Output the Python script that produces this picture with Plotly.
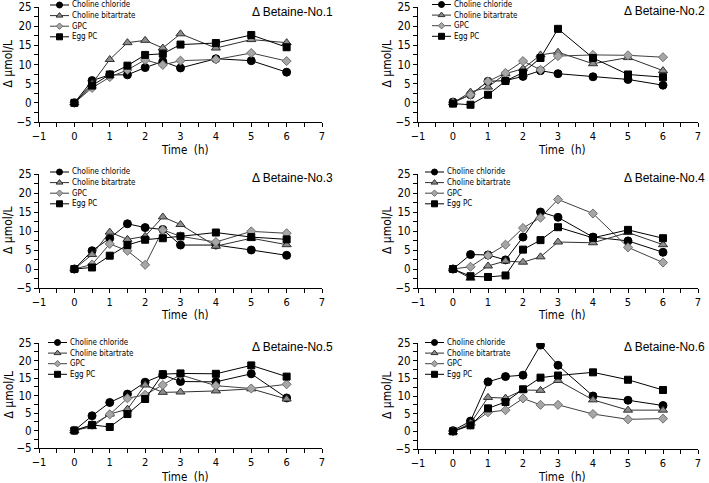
import plotly.graph_objects as go

W, H = 709, 483
FONT = "Liberation Sans Narrow, DejaVu Sans Condensed, Liberation Sans, Arial, sans-serif"
TFONT = "Liberation Sans, Arial, sans-serif"

times = [0, 0.5, 1, 1.5, 2, 2.5, 3, 4, 5, 6]
series_names = ["Choline chloride", "Choline bitartrate", "GPC", "Egg PC"]
panel_titles = ["Δ Betaine-No.1", "Δ Betaine-No.2", "Δ Betaine-No.3",
                "Δ Betaine-No.4", "Δ Betaine-No.5", "Δ Betaine-No.6"]
x_title = "Time  (h)"
y_title = "Δ μmol/L"

# Panel data: choline chloride, choline bitartrate, GPC, egg PC
p1_chloride = [0, 5.8, 7.3, 7.3, 9.2, 10.8, 9.1, 11.5, 11.0, 8.0]
p1_bitart = [0, 5.0, 11.3, 15.7, 16.3, 14.3, 18.0, 14.3, 16.5, 15.7]
p1_gpc = [0, 3.9, 6.7, 8.6, 11.2, 9.9, 11.0, 11.3, 13.0, 10.9]
p1_eggpc = [0, 4.5, 7.4, 9.7, 12.5, 12.8, 15.2, 15.6, 17.7, 14.5]

p2_chloride = [0.2, 2.1, 5.6, 5.8, 6.9, 8.4, 7.6, 6.8, 6.1, 4.6]
p2_bitart = [0, 2.8, 4.1, 7.6, 8.9, 12.5, 13.2, 10.2, 11.8, 8.4]
p2_gpc = [0, 2.1, 5.6, 7.8, 10.9, 8.6, 12.2, 12.5, 12.4, 11.9]
p2_eggpc = [-0.2, -0.5, 2.1, 5.7, 7.9, 11.7, 19.3, 11.7, 7.4, 6.7]

p3_chloride = [0, 4.8, 8.1, 11.9, 10.9, 10.4, 6.3, 6.3, 5.0, 3.6]
p3_bitart = [0, 3.8, 9.7, 7.8, 8.6, 13.7, 11.7, 6.0, 8.1, 6.4]
p3_gpc = [0, 1.2, 6.6, 4.8, 1.1, 10.3, 8.6, 7.1, 9.9, 9.4]
p3_eggpc = [0, 0.4, 3.5, 6.3, 7.7, 8.1, 8.6, 9.6, 8.4, 7.8]

p4_chloride = [0, 3.8, 3.7, 2.4, 8.4, 15.0, 13.6, 8.4, 7.4, 4.4]
p4_bitart = [0, -2.4, 0.8, 2.1, 1.8, 3.2, 7.1, 6.9, 9.6, 6.4]
p4_gpc = [0, 0.6, 3.6, 6.4, 10.8, 13.5, 18.3, 14.6, 5.7, 1.7]
p4_eggpc = [0, -1.9, -2.1, -1.7, 5.1, 7.6, 11.0, 8.2, 10.3, 8.1]

p5_chloride = [0, 4.2, 8.0, 10.4, 13.8, 15.9, 14.0, 13.9, 16.2, 9.3]
p5_bitart = [0, 1.1, 4.7, 6.1, 13.0, 10.9, 11.0, 11.3, 11.9, 9.0]
p5_gpc = [0, 1.6, 4.6, 9.2, 10.2, 13.0, 15.9, 12.8, 12.0, 13.2]
p5_eggpc = [0, 1.6, 1.0, 4.7, 9.0, 16.1, 16.3, 16.2, 18.6, 15.4]

p6_chloride = [0.2, 2.9, 14.0, 15.5, 15.9, 24.4, 18.7, 10.0, 8.8, 7.3]
p6_bitart = [-0.2, 2.3, 9.6, 9.4, 11.7, 11.6, 14.4, 8.9, 6.0, 6.0]
p6_gpc = [0, 1.9, 5.4, 6.0, 9.3, 7.5, 7.5, 4.9, 3.4, 3.6]
p6_eggpc = [0, 1.7, 6.5, 8.3, 11.9, 15.2, 15.8, 16.7, 14.6, 11.7]

panels = [
    [p1_chloride, p1_bitart, p1_gpc, p1_eggpc],
    [p2_chloride, p2_bitart, p2_gpc, p2_eggpc],
    [p3_chloride, p3_bitart, p3_gpc, p3_eggpc],
    [p4_chloride, p4_bitart, p4_gpc, p4_eggpc],
    [p5_chloride, p5_bitart, p5_gpc, p5_eggpc],
    [p6_chloride, p6_bitart, p6_gpc, p6_eggpc],
]

styles = [
    dict(symbol="circle", size=8, color="#000000", line=dict(color="#000000", width=1)),
    dict(symbol="triangle-up", size=8, color="#8c8c8c", line=dict(color="#303030", width=1)),
    dict(symbol="diamond", size=7, color="#a6a6a6", line=dict(color="#707070", width=1)),
    dict(symbol="square", size=7, color="#000000", line=dict(color="#000000", width=1)),
]
legend_sizes = [6, 6, 5, 6]
line_colors = ["#000000", "#303030", "#404040", "#000000"]

# panel boxes in pixels: (x0, x1, ytop, ybottom)
boxes = [
    (39, 322, 7, 122), (418, 698, 7, 122),
    (39, 322, 174, 288), (418, 698, 174, 288),
    (39, 322, 343, 448), (418, 698, 343, 449),
]
# legend anchor per panel: (line start x, first row y) in pixels
legend_pos = [(50, 5), (432, 4.5), (50, 172), (425, 172), (48, 342.5), (425, 342.5)]
# title anchor: (x, y, anchor)
title_pos = [(250, 12, "left"), (707, 11, "right"), (250, 178, "left"),
             (707, 178, "right"), (250, 347, "left"), (707, 347, "right")]
xtitle_y = [150, 150, 315, 315, 476.5, 476.5]
ytitle_x = [8, 387, 8, 387, 8, 387]
ROW = 10.6
LINE_LEN = 19

fig = go.Figure()
layout = dict(template="none", width=W, height=H, margin=dict(l=0, r=0, t=0, b=0, autoexpand=False),
              paper_bgcolor="white", plot_bgcolor="rgba(0,0,0,0)", showlegend=False,
              font=dict(family=FONT, color="#000000"), annotations=[])

for i, (data, box) in enumerate(zip(panels, boxes)):
    k = i + 1
    xa = "x" if k == 1 else f"x{k}"
    ya = "y" if k == 1 else f"y{k}"
    for s, vals in enumerate(data):
        fig.add_trace(go.Scatter(
            x=times, y=vals, mode="lines+markers", name=series_names[s],
            xaxis=xa, yaxis=ya, showlegend=False,
            line=dict(color=line_colors[s], width=1),
            marker=styles[s],
        ))
    x0, x1, yt, yb = box
    xdom = [x0 / W, x1 / W]
    ydom = [1 - yb / H, 1 - yt / H]
    axkey = "xaxis" if k == 1 else f"xaxis{k}"
    aykey = "yaxis" if k == 1 else f"yaxis{k}"
    layout[axkey] = dict(
        domain=xdom, range=[-1, 7], anchor=ya, dtick=1, tick0=0, automargin=False,
        showline=True, linecolor="#000000", linewidth=1, showgrid=False, zeroline=False,
        ticks="outside", ticklen=4, tickcolor="#000000", ticklabelstandoff=0,
        minor=dict(dtick=0.5, ticks="outside", ticklen=4, tickcolor="#000000", showgrid=False),
        tickfont=dict(size=11, family=FONT),
    )
    layout[aykey] = dict(
        domain=ydom, range=[-5, 25], anchor=xa, dtick=5, tick0=0, automargin=False,
        showline=True, linecolor="#000000", linewidth=1, showgrid=False, zeroline=False,
        ticks="outside", ticklen=4, tickcolor="#000000",
        minor=dict(dtick=2.5, ticks="outside", ticklen=4, tickcolor="#000000", showgrid=False),
        tickfont=dict(size=11.5, family=FONT),
    )
    tx, ty, tanchor = title_pos[i]
    layout["annotations"].append(dict(
        text=panel_titles[i], xref="paper", yref="paper",
        x=tx / W, y=1 - ty / H, xanchor=tanchor, yanchor="middle",
        showarrow=False, font=dict(size=12, family=TFONT),
    ))
    layout["annotations"].append(dict(
        text=x_title, xref="paper", yref="paper",
        x=((x0 + x1) / 2 + 4) / W, y=1 - xtitle_y[i] / H, xanchor="center", yanchor="middle",
        showarrow=False, font=dict(size=11.5, family=FONT), borderpad=0,
    ))
    layout["annotations"].append(dict(
        text=y_title, xref="paper", yref="paper", textangle=-90,
        x=ytitle_x[i] / W, y=1 - ((yt + yb) / 2) / H, xanchor="center", yanchor="middle",
        showarrow=False, font=dict(size=12, family=FONT),
    ))

# Manual legends drawn on a full-figure overlay axis measured in pixels
layout["xaxis7"] = dict(domain=[0, 1], range=[0, W], visible=False, fixedrange=True, anchor="y7")
layout["yaxis7"] = dict(domain=[0, 1], range=[H, 0], visible=False, fixedrange=True, anchor="x7")
for s in range(4):
    lx, ly, mx, my = [], [], [], []
    for (gx, gy) in legend_pos:
        ry = gy + s * ROW
        lx += [gx, gx + LINE_LEN, None]
        ly += [ry, ry, None]
        mx.append(gx + LINE_LEN / 2)
        my.append(ry)
    fig.add_trace(go.Scatter(x=lx, y=ly, mode="lines", xaxis="x7", yaxis="y7",
                             showlegend=False, hoverinfo="skip",
                             line=dict(color=line_colors[s], width=1)))
    st = dict(styles[s])
    st["size"] = legend_sizes[s]
    fig.add_trace(go.Scatter(x=mx, y=my, mode="markers", xaxis="x7", yaxis="y7",
                             showlegend=False, hoverinfo="skip", marker=st))
for (gx, gy) in legend_pos:
    for s in range(4):
        ry = gy + s * ROW
        layout["annotations"].append(dict(
            text=series_names[s], xref="paper", yref="paper",
            x=(gx + LINE_LEN + 2) / W, y=1 - ry / H, xanchor="left", yanchor="middle",
            showarrow=False, font=dict(size=8, family=FONT), borderpad=0,
        ))

fig.update_layout(**layout)
fig.write_html("out.html", config={"displayModeBar": False},
               post_script="document.body.style.margin='0';")
